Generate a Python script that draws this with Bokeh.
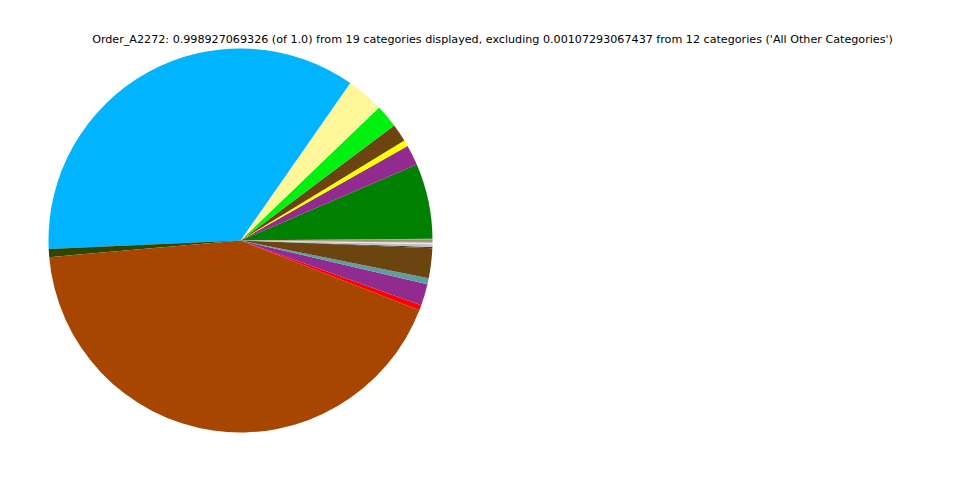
import numpy as np
from bokeh.plotting import figure
from bokeh.models import Range1d, Label
from bokeh.embed import file_html
from bokeh.resources import INLINE

# Slice shares (percent), counter-clockwise from 3 o'clock
categories = ["C01", "C02", "C03", "C04", "C05", "C06", "C07", "C08", "C09", "C10",
              "C11", "C12", "C13", "C14", "C15", "C16", "C17", "C18", "C19"]
shares = [0.15, 6.33, 1.72, 0.53, 1.50, 1.94, 3.14, 35.40, 0.67, 42.70,
          0.44, 1.83, 0.50, 2.50, 0.12, 0.22, 0.12, 0.12, 0.07]
colors = ["#e9967a", "#008000", "#922b8f", "#ffff00", "#6b4410", "#00f010", "#fff799",
          "#00b4ff", "#2f4500", "#a64600", "#ff0000", "#922b8f", "#5f9ea0", "#6b4410",
          "#4a3a20", "#c0c0c0", "#e8e8e8", "#a0a0a0", "#5a4a30"]
title_text = ("Order_A2272: 0.998927069326 (of 1.0) from 19 categories displayed, "
              "excluding 0.00107293067437 from 12 categories ('All Other Categories')")

W, H = 944, 464
p = figure(width=W, height=H, output_backend="svg", toolbar_location=None,
           x_range=Range1d(0, W), y_range=Range1d(0, H), min_border=0)
p.axis.visible = False
p.grid.visible = False
p.outline_line_color = None

vals = np.array(shares, dtype=float)
frac = vals / vals.sum()
ends = np.cumsum(frac) * 2 * np.pi
starts = np.concatenate([[0.0], ends[:-1]])

cx, cy, r = 240, H - 240, 192
p.wedge(x=cx, y=cy, radius=r, start_angle=starts, end_angle=ends,
        fill_color=colors, line_color=None)

p.add_layout(Label(x=492, y=H - 39, text=title_text, text_align="center",
                   text_baseline="middle", text_font="DejaVu Sans",
                   text_font_size="11.15px", text_color="black"))

open("out.html", "w").write(file_html(p, INLINE))
